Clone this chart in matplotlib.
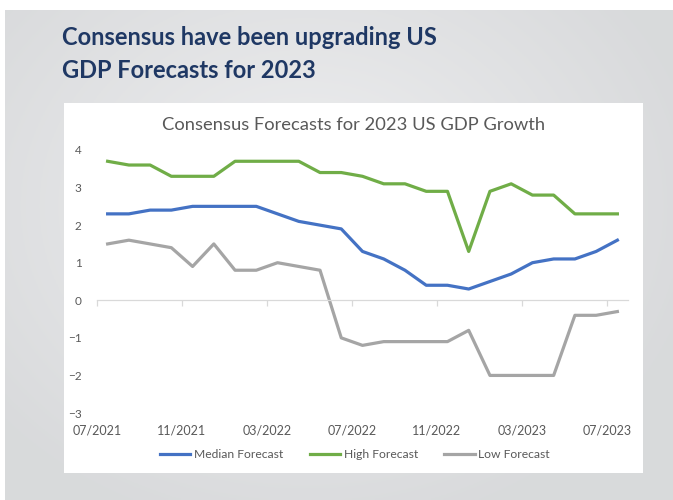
import numpy as np
import matplotlib
matplotlib.use("Agg")
import matplotlib.pyplot as plt
from matplotlib.patches import Rectangle

# ── Data ──────────────────────────────────────────────────────────────────────
months = [
    "07/2021", "08/2021", "09/2021", "10/2021", "11/2021", "12/2021",
    "01/2022", "02/2022", "03/2022", "04/2022", "05/2022", "06/2022",
    "07/2022", "08/2022", "09/2022", "10/2022", "11/2022", "12/2022",
    "01/2023", "02/2023", "03/2023", "04/2023", "05/2023", "06/2023",
    "07/2023",
]
median_fc = [2.3, 2.3, 2.4, 2.4, 2.5, 2.5, 2.5, 2.5, 2.3, 2.1, 2.0, 1.9, 1.3,
             1.1, 0.8, 0.4, 0.4, 0.3, 0.5, 0.7, 1.0, 1.1, 1.1, 1.3, 1.6]
high_fc = [3.7, 3.6, 3.6, 3.3, 3.3, 3.3, 3.7, 3.7, 3.7, 3.7, 3.4, 3.4, 3.3,
           3.1, 3.1, 2.9, 2.9, 1.3, 2.9, 3.1, 2.8, 2.8, 2.3, 2.3, 2.3]
low_fc = [1.5, 1.6, 1.5, 1.4, 0.9, 1.5, 0.8, 0.8, 1.0, 0.9, 0.8, -1.0, -1.2,
          -1.1, -1.1, -1.1, -1.1, -0.8, -2.0, -2.0, -2.0, -2.0, -0.4, -0.4, -0.3]
tick_labels = ["07/2021", "11/2021", "03/2022", "07/2022",
               "11/2022", "03/2023", "07/2023"]
y_ticks = [-3, -2, -1, 0, 1, 2, 3, 4]

W, H = 673, 500
FONT = ["Lato", "DejaVu Sans"]
GREY_TXT = "#595959"

plt.rcParams["font.family"] = FONT

fig = plt.figure(figsize=(W / 100, H / 100), dpi=100)
fig.patch.set_facecolor("white")

# ── Slide background (soft radial grey gradient) ──────────────────────────────
ax_bg = fig.add_axes([5 / W, 0, 1 - 5 / W, 1 - 10 / H], zorder=-10)
gy, gx = np.mgrid[0:1:200j, 0:1:300j]
r = np.sqrt(((gx - 0.45) / 0.8) ** 2 + ((gy - 0.6) / 0.9) ** 2)
r = np.clip(r / 0.75, 0, 1)
c0 = np.array([0.935, 0.937, 0.943])
c1 = np.array([0.850, 0.855, 0.862])
img = c0[None, None, :] * (1 - r[..., None]) + c1[None, None, :] * r[..., None]
ax_bg.imshow(img, aspect="auto", origin="lower", extent=[0, 1, 0, 1])
ax_bg.axis("off")

# white chart panel
fig.patches.append(Rectangle((64 / W, 27 / H), 579 / W, 370 / H,
                             transform=fig.transFigure, facecolor="white",
                             edgecolor="none", zorder=-5))

# ── Slide title ───────────────────────────────────────────────────────────────
fig.text(62 / W, 1 - 45 / H, "Consensus have been upgrading US",
         fontsize=17, fontweight="bold", color="#1F3864", va="baseline")
fig.text(62 / W, 1 - 78 / H, "GDP Forecasts for 2023",
         fontsize=17, fontweight="bold", color="#1F3864", va="baseline")

# ── Chart ─────────────────────────────────────────────────────────────────────
ax = fig.add_axes([97 / W, 1 - 413 / H, 531 / W, 263 / H])
ax.set_facecolor("none")
x = np.arange(len(months))

ax.plot(x, median_fc, color="#4472C4", lw=2.3, label="Median Forecast",
        solid_joinstyle="round")
ax.plot(x, high_fc, color="#70AD47", lw=2.3, label="High Forecast",
        solid_joinstyle="round")
ax.plot(x, low_fc, color="#A5A5A5", lw=2.3, label="Low Forecast",
        solid_joinstyle="round")

ax.set_xlim(-0.5, len(months) - 0.5)
ax.set_ylim(-3, 4)

for s in ["top", "right", "left"]:
    ax.spines[s].set_visible(False)
ax.spines["bottom"].set_position(("data", 0))
ax.spines["bottom"].set_color("#D9D9D9")
ax.spines["bottom"].set_linewidth(0.9)

tick_pos = np.arange(-0.5, len(months), 4)
ax.set_xticks(tick_pos)
ax.tick_params(axis="x", direction="out", length=4, color="#D9D9D9",
               width=0.9, labelbottom=False)

sec = ax.secondary_xaxis(0)
sec.set_xticks(tick_pos, tick_labels)
sec.tick_params(length=0, pad=8, labelsize=9, labelcolor=GREY_TXT)
sec.spines["bottom"].set_visible(False)

ax.set_yticks(y_ticks)
ax.tick_params(axis="y", length=0, pad=11, labelsize=8.5, labelcolor=GREY_TXT)

fig.text(353.5 / W, 1 - 125 / H, "Consensus Forecasts for 2023 US GDP Growth",
         fontsize=13.2, color=GREY_TXT, ha="center", va="center")

fig.legend(loc="center", bbox_to_anchor=(355 / W, 1 - 455 / H), ncol=3,
           frameon=False, fontsize=8.7, labelcolor=GREY_TXT,
           handlelength=2.5, handletextpad=0.3, columnspacing=2.2)

fig.savefig("out.png", dpi=100, facecolor=fig.get_facecolor())
